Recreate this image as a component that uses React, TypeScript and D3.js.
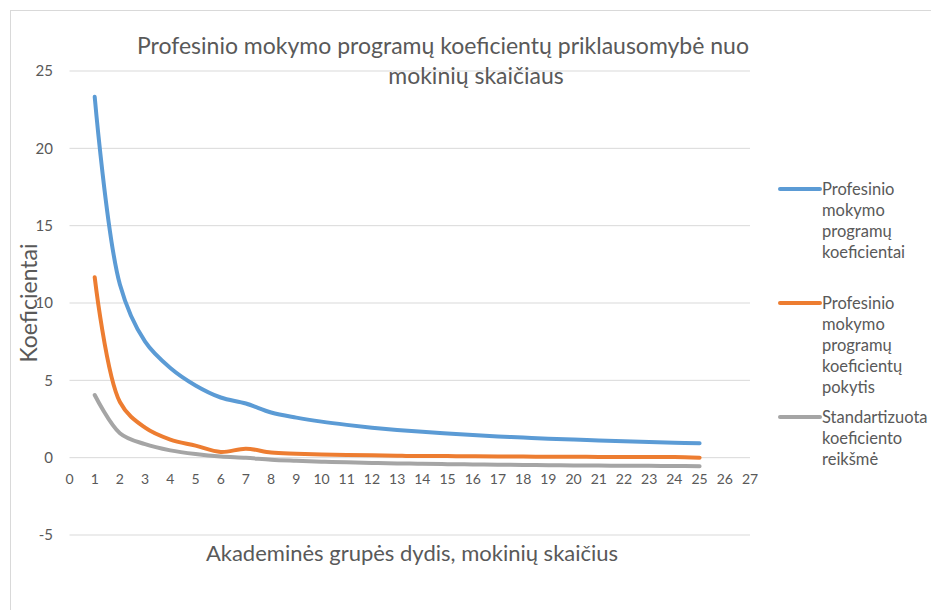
import React from "react";
import * as d3 from "d3";

const groupSizes = [1, 2, 3, 4, 5, 6, 7, 8, 9, 10, 11, 12, 13, 14, 15, 16, 17, 18, 19, 20, 21, 22, 23, 24, 25];
const programCoef = [23.33, 11.2, 7.5, 5.8, 4.67, 3.89, 3.5, 2.92, 2.59, 2.33, 2.12, 1.94, 1.79, 1.67, 1.56, 1.46, 1.37, 1.3, 1.23, 1.17, 1.11, 1.06, 1.01, 0.97, 0.93];
const coefChange = [11.67, 3.6, 1.94, 1.17, 0.78, 0.37, 0.58, 0.33, 0.26, 0.21, 0.18, 0.15, 0.12, 0.11, 0.1, 0.09, 0.07, 0.07, 0.06, 0.06, 0.05, 0.05, 0.04, 0.04, 0.0];
const standardized = [4.05, 1.58, 0.87, 0.47, 0.23, 0.07, -0.01, -0.13, -0.2, -0.26, -0.3, -0.34, -0.37, -0.39, -0.42, -0.44, -0.46, -0.47, -0.49, -0.5, -0.51, -0.52, -0.53, -0.54, -0.55];

const xTicks = d3.range(0, 28);
const yTicks = [-5, 0, 5, 10, 15, 20, 25];

const series = [
  { name: ["Profesinio", "mokymo", "programų", "koeficientai"], values: programCoef, color: "#5B9BD5" },
  { name: ["Profesinio", "mokymo", "programų", "koeficientų", "pokytis"], values: coefChange, color: "#ED7D31" },
  { name: ["Standartizuota", "koeficiento", "reikšmė"], values: standardized, color: "#A5A5A5" },
];

const font = "Lato, 'Open Sans', sans-serif";
const textColor = "#595959";

export default function App() {
  const x = d3.scaleLinear().domain([0, 27]).range([69.5, 750]);
  const y = d3.scaleLinear().domain([-5, 25]).range([535, 71]);

  const line = d3
    .line<number>()
    .x((_, i) => x(groupSizes[i]))
    .y((d) => y(d))
    .curve(d3.curveCatmullRom);

  const legendRows = [189, 303, 417];

  return (
    <svg width={931} height={610} style={{ position: "absolute", left: 0, top: 0, background: "#fff" }} fontFamily={font}>
      <rect x={10.5} y={10.5} width={940} height={620} fill="#fff" stroke="#D9D9D9" />

      {yTicks.map((t) => (
        <g key={t}>
          <line x1={x(0)} x2={x(27)} y1={y(t)} y2={y(t)} stroke="#D9D9D9" strokeWidth={1} />
          <text x={53} y={y(t)} dy="0.35em" textAnchor="end" fontSize={15} fill={textColor}>
            {t}
          </text>
        </g>
      ))}

      {xTicks.map((t) => (
        <text key={t} x={x(t)} y={479} dy="0.35em" textAnchor="middle" fontSize={14} fill={textColor}>
          {t}
        </text>
      ))}

      {series.map((s) => (
        <path key={s.color} d={line(s.values) || ""} fill="none" stroke={s.color} strokeWidth={4} strokeLinecap="round" strokeLinejoin="round" />
      ))}

      <text x={443} y={46} dy="0.35em" textAnchor="middle" fontSize={23} fill={textColor}>
        Profesinio mokymo programų koeficientų priklausomybė nuo
      </text>
      <text x={476} y={76} dy="0.35em" textAnchor="middle" fontSize={23} fill={textColor}>
        mokinių skaičiaus
      </text>

      <text transform={`translate(29,303) rotate(-90)`} dy="0.35em" textAnchor="middle" fontSize={23} fill={textColor}>
        Koeficientai
      </text>
      <text x={412} y={553} dy="0.35em" textAnchor="middle" fontSize={22} fill={textColor}>
        Akademinės grupės dydis, mokinių skaičius
      </text>

      {series.map((s, i) => (
        <g key={s.color} transform={`translate(0,${legendRows[i]})`}>
          <line x1={780} x2={820} y1={0} y2={0} stroke={s.color} strokeWidth={4} strokeLinecap="round" />
          {s.name.map((w, j) => (
            <text key={w} x={822} y={j * 21} dy="0.35em" fontSize={16.5} fill={textColor}>
              {w}
            </text>
          ))}
        </g>
      ))}
    </svg>
  );
}
